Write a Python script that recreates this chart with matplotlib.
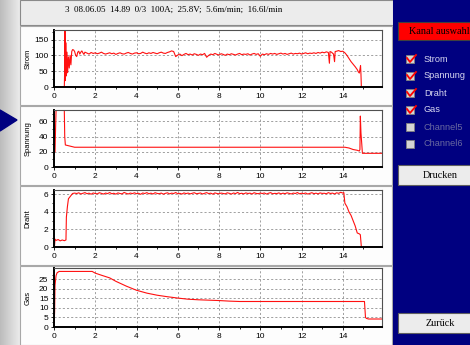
import matplotlib.pyplot as plt
import numpy as np
from matplotlib.patches import Rectangle, Polygon

W, H = 470, 345

header = '3  08.06.05  14.89  0/3  100A;  25.8V;  5.6m/min;  16.6l/min'
channels = ['Strom', 'Spannung', 'Draht', 'Gas', 'Channel5', 'Channel6']
checked = [True, True, True, True, False, False]

# Strom: Anlauf, ruhiger Teil (Schritt 0.1 ab 1.6), Ende
strom_start_t = [0.45, 0.50, 0.52, 0.53, 0.55, 0.57, 0.60, 0.63, 0.66, 0.70, 0.74, 0.78, 0.82,
                 0.86, 0.90, 0.95, 1.00, 1.05, 1.10, 1.15, 1.20, 1.25, 1.30, 1.35, 1.40, 1.45, 1.50]
strom_start_v = [0, 0, 60, 180, 20, 140, 35, 110, 45, 95, 60, 100, 70,
                 112, 118, 117, 112, 100, 96, 110, 113, 104, 110, 114, 108, 103, 110]
strom_mid = [107, 104, 109, 106, 108, 105, 107, 110, 106, 104,
             106, 108, 105, 107, 103, 106, 108, 105, 104, 107,
             109, 106, 104, 107, 108, 105, 106, 110, 107, 105,
             108, 106, 109, 107, 105, 108, 110, 107, 106, 109,
             111, 114, 112, 96, 101, 104, 99, 103, 106, 102,
             104, 101, 105, 103, 100, 104, 102, 106, 94, 100,
             104, 102, 106, 103, 101, 105, 103, 100, 104, 102,
             105, 103, 101, 104, 106, 102, 104, 103, 105, 101,
             104, 106, 103, 105, 97, 104, 102, 105, 103, 106,
             104, 106, 103, 105, 107, 104, 106, 103, 105, 107,
             104, 106, 105, 107, 104, 106, 108, 105, 107, 106,
             108, 106, 109, 107, 110, 108, 111]
strom_end_t = [13.30, 13.35, 13.38, 13.45, 13.55, 13.60, 13.63, 13.7, 13.8, 13.9, 14.0, 14.1,
               14.2, 14.3, 14.4, 14.5, 14.6, 14.7, 14.75, 14.8, 14.83, 14.86, 14.88, 14.9]
strom_end_v = [109, 75, 112, 110, 104, 80, 112, 113, 115, 112, 113, 108,
               100, 90, 80, 72, 64, 55, 48, 44, 55, 68, 40, 0]

spann_t = [0.05, 0.08, 0.10, 0.50, 0.52, 0.55, 0.70, 0.85, 1.0, 14.1, 14.3, 14.5, 14.6,
           14.7, 14.8, 14.83, 14.85, 14.88, 14.92, 14.95, 15.9]
spann_v = [20, 55, 74.5, 74.5, 40, 29, 28, 27, 26, 26, 25, 23, 22.5,
           22, 21, 23, 67, 45, 30, 18, 18]

draht_start_t = [0.02, 0.05, 0.1, 0.2, 0.3, 0.4, 0.5, 0.58, 0.6, 0.65, 0.7, 0.8, 0.9, 1.0]
draht_start_v = [0, 0.9, 0.75, 0.85, 0.7, 0.8, 0.72, 0.8, 3.4, 4.6, 5.5, 5.8, 6.1, 6.15]
draht_mid = [6.10, 6.18, 6.05, 6.12, 6.20, 6.08, 6.14, 6.02, 6.16, 6.10,
             6.06, 6.19, 6.11, 6.04, 6.15, 6.09, 6.21, 6.07, 6.13, 6.03,
             6.17, 6.10, 6.06, 6.22, 6.12, 6.05, 6.15, 6.09, 6.18, 6.08,
             6.13, 6.01, 6.16, 6.10, 6.20, 6.07, 6.14, 6.05, 6.19, 6.11,
             6.08, 6.15, 6.03, 6.12, 6.18, 6.06, 6.14, 6.10, 6.21, 6.07,
             6.12, 6.04, 6.17, 6.09, 6.15, 6.06, 6.13, 6.19, 6.08, 6.11,
             6.16, 6.05, 6.12, 6.20, 6.09, 6.14, 6.03, 6.17, 6.10, 6.07,
             6.15, 6.11, 6.06, 6.18, 6.12, 6.04, 6.16, 6.09, 6.22, 6.08,
             6.13, 6.06, 6.17, 6.10, 6.14, 6.05, 6.19, 6.11, 6.08, 6.15,
             6.10, 6.16, 6.04, 6.13, 6.20, 6.07, 6.12, 6.09, 6.17, 6.06,
             6.14, 6.08, 6.18, 6.11, 6.05, 6.15, 6.10, 6.21, 6.07, 6.13,
             6.09, 6.16, 6.04, 6.12, 6.19, 6.08, 6.14, 6.06, 6.17, 6.11,
             6.13, 6.07, 6.20, 6.10, 6.15, 6.05, 6.18, 6.12, 6.24, 6.15]
draht_end_t = [14.05, 14.1, 14.2, 14.3, 14.4, 14.5, 14.6, 14.7, 14.8, 14.85, 14.9]
draht_end_v = [6.2, 5.0, 4.6, 4.0, 3.6, 3.0, 2.4, 1.6, 1.5, 1.4, 0]

gas_t = [0.0, 0.03, 0.05, 0.1, 0.15, 0.25, 1.85, 2.0, 2.3, 2.7, 3.0, 3.5, 4.0, 4.5, 5.0,
         5.5, 6.0, 6.5, 7.0, 7.5, 8.0, 8.5, 9.0, 15.05, 15.1, 15.15, 15.25, 15.9]
gas_v = [0, 8, 22, 27, 28.5, 29.2, 29.2, 28.3, 27.2, 25.8, 24.0, 21.5, 19.3, 17.8, 16.7,
         15.9, 15.2, 14.6, 14.3, 14.1, 13.9, 13.6, 13.4, 13.4, 5, 4.5, 4.2, 4.2]

strom_t = strom_start_t + list(1.6 + 0.1 * np.arange(len(strom_mid))) + strom_end_t
strom_v = strom_start_v + strom_mid + strom_end_v
draht_t = draht_start_t + list(1.1 + 0.1 * np.arange(len(draht_mid))) + draht_end_t
draht_v = draht_start_v + draht_mid + draht_end_v

fig = plt.figure(figsize=(W / 100, H / 100), dpi=100)
fig.patch.set_facecolor('#fbfbfb')

# Hintergrund in Pixelkoordinaten
bg = fig.add_axes([0, 0, 1, 1], zorder=-1)
bg.set_xlim(0, W)
bg.set_ylim(H, 0)
bg.axis('off')

grad = np.linspace(0.74, 0.92, 20)[None, :] * np.ones((H, 1))
bg.imshow(np.dstack([grad, grad, grad]), extent=(0, 20, H, 0), aspect='auto')
bg.add_patch(Polygon([[0, 110], [17, 120], [0, 131]], closed=True, color='#000080'))
bg.add_patch(Rectangle((20, 0), 373, 25, facecolor='#ececec', edgecolor='#8a8a8a', lw=0.8))
bg.text(174, 10, header, ha='center', va='center', fontsize=6.5, family='Liberation Serif')
for y0, y1 in [(26, 105), (106, 185), (186, 265), (266, 345)]:
    bg.add_patch(Rectangle((20, y0), 372, y1 - y0, facecolor='#fdfdfd', edgecolor='#a8a8a8', lw=0.8))

bg.add_patch(Rectangle((393, 0), 77, H, facecolor='#000080', edgecolor='none'))
bg.add_patch(Rectangle((398, 22), 74, 18, facecolor='#ff0000', edgecolor='#404040', lw=0.8))
bg.text(409, 31.5, 'Kanal auswahl', va='center', fontsize=7.3, family='Liberation Serif')
for i, (name, on) in enumerate(zip(channels, checked)):
    cy = 59 + 17 * i
    bg.add_patch(Rectangle((406, cy - 4), 8, 8, facecolor='#d4d4d4', edgecolor='#808080', lw=0.6))
    if on:
        bg.plot([407, 410, 416], [cy - 1, cy + 3, cy - 4], color='#ff0000', lw=1.3)
    bg.text(424, cy, name, va='center', fontsize=6.6, family='Liberation Sans',
            color='#d8d8f0' if on else '#6a6aa0')
for y0, label in [(165, 'Drucken'), (313, 'Zur\u00fcck')]:
    bg.add_patch(Rectangle((398, y0), 74, 20, facecolor='#ececec', edgecolor='#606060', lw=0.8))
    bg.text(440, y0 + 10, label, ha='center', va='center', fontsize=7.3, family='Liberation Serif')


def add_plot(top, bottom, t, v, ymax, yticks, yminor, label):
    ax = fig.add_axes([54 / W, 1 - bottom / H, (382 - 54) / W, (bottom - top) / H])
    ax.set_facecolor('white')
    ax.plot(t, v, color='#ff1010', lw=0.8)
    ax.set_xlim(0, 15.9)
    ax.set_ylim(0, ymax)
    ax.set_xticks(range(0, 16, 2))
    ax.set_xticks(range(1, 16, 2), minor=True)
    ax.set_yticks(yticks)
    ax.set_yticks(yminor, minor=True)
    ax.grid(True, which='major', color='#909090', ls=(0, (2.5, 2.5)), lw=0.6)
    ax.tick_params(which='both', direction='out', labelsize=6, pad=1.5, width=0.6)
    ax.tick_params(which='major', length=2.5)
    ax.tick_params(which='minor', length=1.5)
    for lab in ax.get_xticklabels() + ax.get_yticklabels():
        lab.set_family('Liberation Sans')
    for s in ['left', 'bottom']:
        ax.spines[s].set_linewidth(1.4)
    for s in ['top', 'right']:
        ax.spines[s].set_linewidth(0.8)
        ax.spines[s].set_color('#505050')
    bg.text(28, (top + bottom) / 2, label, rotation=90, ha='center', va='center',
            fontsize=5.5, family='Liberation Sans')
    return ax


add_plot(30, 87, strom_t, strom_v, 180, [0, 50, 100, 150], [25, 75, 125, 175], 'Strom')
add_plot(110, 167, spann_t, spann_v, 75, [0, 20, 40, 60], [10, 30, 50, 70], 'Spannung')
add_plot(190, 247, draht_t, draht_v, 6.5, [0, 2, 4, 6], [1, 3, 5], 'Draht')
add_plot(268, 327, gas_t, gas_v, 31, [0, 5, 10, 15, 20, 25], [2.5, 7.5, 12.5, 17.5, 22.5, 27.5], 'Gas')

fig.savefig('out.png', dpi=100)
